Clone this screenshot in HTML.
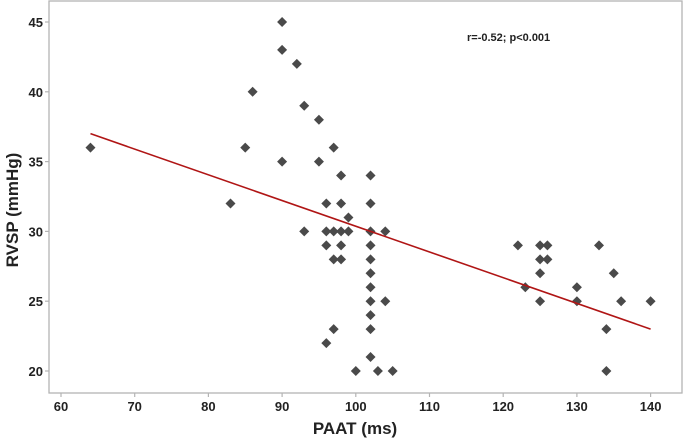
<!DOCTYPE html>
<html><head><meta charset="utf-8"><style>
html,body{margin:0;padding:0;background:#fff;}
svg{display:block;font-family:"Liberation Sans",Arial,sans-serif;}
</style></head><body>
<svg id="chart" width="685" height="438" viewBox="0 0 685 438">
<rect x="49" y="1" width="633" height="392" fill="#fff" stroke="#b4b4b4" stroke-width="1.3"/>
<g id="xaxis"></g>
<g id="yaxis"></g>
<g id="points"></g>
<g id="fit"></g>
<text x="355" y="434" text-anchor="middle" font-size="17" font-weight="bold" fill="#222">PAAT (ms)</text>
<text transform="translate(18,210) rotate(-90)" text-anchor="middle" font-size="17" font-weight="bold" fill="#222">RVSP (mmHg)</text>
<text x="467" y="41" font-size="11" font-weight="bold" fill="#222">r=-0.52; p&lt;0.001</text>
</svg>
<script>
const xTicks=[60,70,80,90,100,110,120,130,140];
const yTicks=[20,25,30,35,40,45];
const paat=[64,83,85,86,90,90,90,92,93,93,95,95,96,96,96,96,97,97,97,97,98,98,98,98,98,99,99,100,102,102,102,102,102,102,102,102,102,102,102,103,104,104,105,122,123,125,125,125,125,126,126,130,130,133,134,134,135,136,140];
const rvsp=[36,32,36,40,45,43,35,42,39,30,38,35,32,30,29,22,36,30,28,23,34,32,30,29,28,31,30,20,34,32,30,29,28,27,26,25,24,23,21,20,30,25,20,29,26,29,28,27,25,29,28,26,25,29,23,20,27,25,25];
const fitX=[64,140];
const fitY=[37,23];
const NS='http://www.w3.org/2000/svg';
const sx=v=>61+(v-60)*7.37;
const sy=v=>371-(v-20)*13.96;
function mk(tag,attrs,parent){const e=document.createElementNS(NS,tag);for(const k in attrs)e.setAttribute(k,attrs[k]);parent.appendChild(e);return e;}
const xa=document.getElementById('xaxis'),ya=document.getElementById('yaxis'),pg=document.getElementById('points'),fg=document.getElementById('fit');
xTicks.forEach(t=>{
  const l=mk('line',{x1:sx(t),x2:sx(t),y1:393,y2:397,stroke:'#b4b4b4','stroke-width':1.2},xa);
  
  
  const tx=mk('text',{x:sx(t),y:411,'text-anchor':'middle','font-size':13,'font-weight':'bold',fill:'#222'},xa);
  tx.textContent=t;
  
  
});
yTicks.forEach(t=>{
  const l=mk('line',{x1:45,x2:49,y1:sy(t),y2:sy(t),stroke:'#b4b4b4','stroke-width':1.2},ya);
  
  
  const tx=mk('text',{x:43,y:sy(t)+5,'text-anchor':'end','font-size':13,'font-weight':'bold',fill:'#222'},ya);
  tx.textContent=t;
  
  
});
const ln=mk('line',{x1:sx(fitX[0]),y1:sy(fitY[0]),x2:sx(fitX[1]),y2:sy(fitY[1]),stroke:'#b01515','stroke-width':1.6},fg);


paat.forEach((x,i)=>{
  const cx=sx(x),cy=sy(rvsp[i]),r=5;
  const p=mk('polygon',{points:`${cx},${cy-r} ${cx+r},${cy} ${cx},${cy+r} ${cx-r},${cy}`,fill:'#4a4a4a'},pg);
  
  
});
</script>
</body></html>
